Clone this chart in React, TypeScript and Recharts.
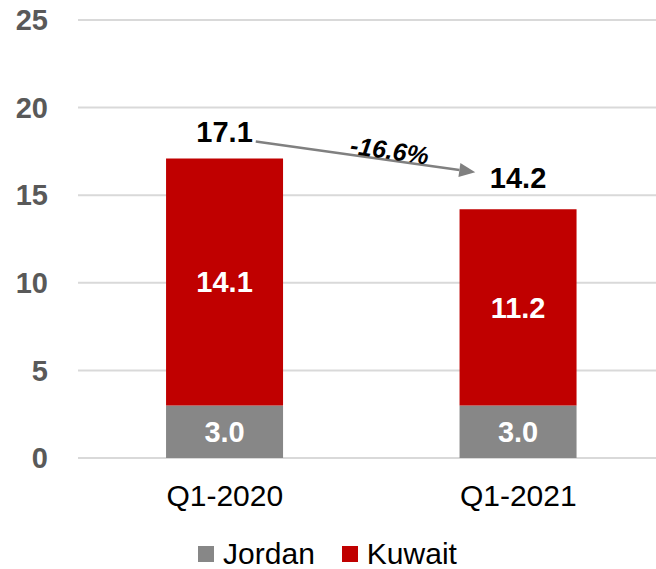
import { BarChart, Bar, XAxis, YAxis, CartesianGrid, LabelList, Legend, ReferenceLine } from 'recharts';

const quarters = ['Q1-2020', 'Q1-2021'];
const jordan = [3.0, 3.0];
const kuwait = [14.1, 11.2];
const totals = [17.1, 14.2];
const yTicks = [0, 5, 10, 15, 20, 25];
const changeLabel = '-16.6%';

const GREY = '#878787';
const RED = '#C00000';
const FONT = 'Liberation Sans, Arial, sans-serif';

const data = quarters.map((q, i) => ({
  quarter: q,
  jordan: jordan[i],
  kuwait: kuwait[i],
  total: totals[i],
}));

// arrow between the two totals, drawn from the reference line end points
function ChangeArrow(props: any) {
  const { x1, y1, x2, y2 } = props;
  const sx = x1 + 31;
  const sy = y1 - 17;
  const ex = x2 - 43;
  const ey = y2 - 37;
  const ang = Math.atan2(ey - sy, ex - sx);
  const c = Math.cos(ang);
  const s = Math.sin(ang);
  const head = 16;
  const hw = 7;
  const bx = ex - head * c;
  const by = ey - head * s;
  const mx = (sx + ex) / 2;
  const my = (sy + ey) / 2;
  return (
    <g>
      <line x1={sx} y1={sy} x2={bx} y2={by} stroke="#808080" strokeWidth={2.5} />
      <polygon
        points={`${ex},${ey} ${bx - hw * s},${by + hw * c} ${bx + hw * s},${by - hw * c}`}
        fill="#808080"
      />
      <g transform={`translate(${mx},${my}) rotate(${(ang * 180) / Math.PI})`}>
        <text
          x={23}
          y={-1}
          textAnchor="middle"
          fontFamily={FONT}
          fontSize={25}
          fontWeight="bold"
          fontStyle="italic"
          fill="#000"
        >
          {changeLabel}
        </text>
      </g>
    </g>
  );
}

function TotalLabel(props: any) {
  const { x, y, width, value, index } = props;
  const lift = index === 0 ? 16 : 21;
  return (
    <text
      x={x + width / 2}
      y={y - lift}
      textAnchor="middle"
      fontFamily={FONT}
      fontSize={29}
      fontWeight="bold"
      fill="#000"
    >
      {Number(value).toFixed(1)}
    </text>
  );
}

function LegendRow() {
  const items = [
    { name: 'Jordan', color: GREY },
    { name: 'Kuwait', color: RED },
  ];
  return (
    <div
      style={{
        display: 'flex',
        justifyContent: 'center',
        alignItems: 'center',
        height: 30,
        paddingRight: 10,
        fontFamily: FONT,
        fontSize: 30,
        lineHeight: '30px',
        color: '#000',
      }}
    >
      {items.map((it, i) => (
        <div key={it.name} style={{ display: 'flex', alignItems: 'center', marginLeft: i ? 27 : 0 }}>
          <span style={{ width: 16, height: 16, background: it.color, marginRight: 9, display: 'inline-block' }} />
          <span>{it.name}</span>
        </div>
      ))}
    </div>
  );
}

export default function App() {
  return (
    <div style={{ position: 'absolute', left: 0, top: 0, width: 656, height: 569, overflow: 'hidden', background: '#fff' }}>
      <BarChart
        width={666}
        height={569}
        data={data}
        margin={{ top: 20, right: 1, left: 0, bottom: 0 }}
        barCategoryGap="30%"
      >
        <CartesianGrid vertical={false} stroke="#d9d9d9" strokeWidth={2} />
        <XAxis
          dataKey="quarter"
          axisLine={false}
          tickLine={false}
          tickSize={0}
          tickMargin={27}
          height={81}
          tick={{ fill: '#000', fontSize: 30, fontFamily: FONT }}
        />
        <YAxis
          width={78}
          domain={[0, 25]}
          ticks={yTicks}
          axisLine={false}
          tickLine={false}
          tickSize={0}
          tickMargin={30}
          tick={{ fill: '#595959', fontSize: 29, fontWeight: 'bold', fontFamily: FONT }}
        />
        <Legend verticalAlign="bottom" content={() => <LegendRow />} />
        <Bar dataKey="jordan" name="Jordan" stackId="a" fill={GREY} isAnimationActive={false}>
          <LabelList
            dataKey="jordan"
            position="center"
            fill="#fff"
            fontSize={29}
            fontWeight="bold"
            fontFamily={FONT}
            formatter={(v: any) => Number(v).toFixed(1)}
          />
        </Bar>
        <Bar dataKey="kuwait" name="Kuwait" stackId="a" fill={RED} isAnimationActive={false}>
          <LabelList
            dataKey="kuwait"
            position="center"
            fill="#fff"
            fontSize={29}
            fontWeight="bold"
            fontFamily={FONT}
            formatter={(v: any) => Number(v).toFixed(1)}
          />
          <LabelList dataKey="total" content={<TotalLabel />} />
        </Bar>
        <ReferenceLine
          segment={[
            { x: quarters[0], y: totals[0] },
            { x: quarters[1], y: totals[1] },
          ]}
          shape={ChangeArrow}
        />
      </BarChart>
    </div>
  );
}
